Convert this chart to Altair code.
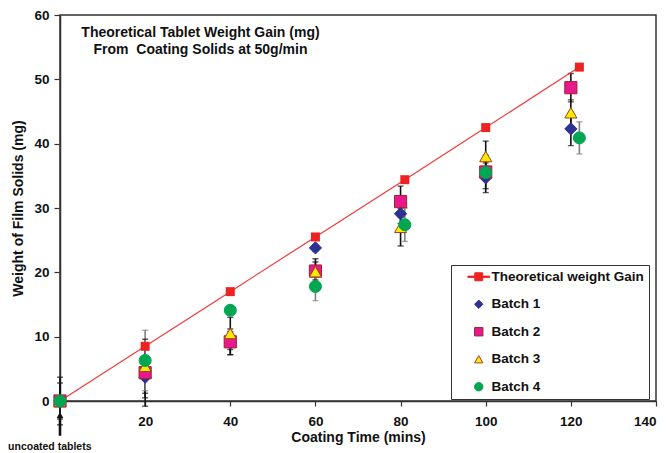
import altair as alt
import pandas as pd

# ---- data ----
series_names = ["Theoretical weight Gain", "Batch 1", "Batch 2", "Batch 3", "Batch 4"]

theory_time = [0, 20, 40, 60, 81, 100, 122]
theory_val = [0, 8.5, 17.0, 25.5, 34.4, 42.5, 51.9]

batch_time = [0, 20, 40, 60, 80, 100, 120]
batch4_time = [0, 20, 40, 60, 81, 100, 122]

batch1 = [0, 3.7, 9.0, 23.8, 29.1, 34.7, 42.3]
batch1_err = [3.7, 4.5, 1.8, 0.5, 1.5, 2.3, 2.6]
batch2 = [0, 4.4, 9.2, 20.2, 31.0, 35.6, 48.7]
batch2_err = [2.8, 3.9, 2.0, 1.4, 2.4, 2.6, 2.2]
batch3 = [0, 5.4, 10.5, 20.1, 27.0, 38.0, 44.8]
batch3_err = [0, 4.2, 2.5, 2.0, 2.9, 2.4, 2.0]
batch4 = [0, 6.3, 14.1, 17.8, 27.4, 35.5, 40.9]
batch4_err = [0, 4.7, 0.5, 2.2, 2.6, 1.0, 2.5]

x_ticks = [20, 40, 60, 80, 100, 120, 140]
y_ticks = [0, 10, 20, 30, 40, 50, 60]

title_lines = ["Theoretical Tablet Weight Gain (mg)", "From\u00a0\u00a0Coating Solids at 50g/min"]

# ---- tables ----
theory_df = pd.DataFrame({"t": theory_time, "v": theory_val})

rows = []
for name, ts, vs, es in [
    ("Batch 1", batch_time, batch1, batch1_err),
    ("Batch 2", batch_time, batch2, batch2_err),
    ("Batch 3", batch_time, batch3, batch3_err),
    ("Batch 4", batch4_time, batch4, batch4_err),
]:
    for t, v, e in zip(ts, vs, es):
        rows.append({"series": name, "kind": name, "t": t, "v": v, "lo": v - e, "hi": v + e})
batch_df = pd.DataFrame(rows)

FONT = "Liberation Sans"

x_scale = alt.Scale(domain=[0, 140], nice=False, zero=False)
y_scale = alt.Scale(domain=[0, 60], nice=False, zero=False)

x_axis = alt.Axis(
    values=x_ticks, title="Coating Time (mins)", grid=False,
    tickSize=5, labelPadding=8, titleBaseline="middle", titleY=36,
)
y_axis = alt.Axis(
    values=y_ticks, title="Weight of Film Solids (mg)", grid=False,
    tickSize=6, labelPadding=5, titleBaseline="middle", titleX=-42,
)

X = alt.X("t:Q", scale=x_scale, axis=x_axis)
Y = alt.Y("v:Q", scale=y_scale, axis=y_axis)

err_color = alt.condition("datum.series == 'Batch 4'", alt.value("#808080"), alt.value("#111111"))

err_rule = alt.Chart(batch_df).mark_rule(strokeWidth=1.6).encode(
    x=alt.X("t:Q", scale=x_scale), y=alt.Y("lo:Q", scale=y_scale), y2="hi:Q", color=err_color
)
err_cap_lo = alt.Chart(batch_df).mark_tick(orient="horizontal", size=6, thickness=1.4).encode(
    x=alt.X("t:Q", scale=x_scale), y=alt.Y("lo:Q", scale=y_scale), color=err_color
)
err_cap_hi = alt.Chart(batch_df).mark_tick(orient="horizontal", size=6, thickness=1.4).encode(
    x=alt.X("t:Q", scale=x_scale), y=alt.Y("hi:Q", scale=y_scale), color=err_color
)

theory_line = alt.Chart(theory_df).mark_line(color="#F03A3A", strokeWidth=1.2).encode(x=X, y=Y)
theory_pts = alt.Chart(theory_df).mark_square(color="#EE2222", size=81, opacity=1).encode(
    x=alt.X("t:Q", scale=x_scale), y=alt.Y("v:Q", scale=y_scale)
)

legend_line_symbol = "M-2.6,-0.15H2.6V0.15H-2.6Z M-0.95,-0.95H0.95V0.95H-0.95Z"

color_scale = alt.Scale(domain=series_names,
                        range=["#EE2222", "#2E3192", "#E8198B", "#FFEB00", "#00A651"])
stroke_scale = alt.Scale(domain=series_names,
                         range=["#EE2222", "#2E3192", "#9B2335", "#A0401E", "#00A651"])
shape_scale = alt.Scale(domain=series_names,
                        range=[legend_line_symbol, "diamond", "square", "triangle-up", "circle"])

the_legend = alt.Legend(
    title=None, orient="none", legendX=391, legendY=250,
    padding=5, symbolOffset=16, symbolSize=70, labelOffset=6,
    rowPadding=12.5, labelFont=FONT, labelFontSize=13.5, labelFontWeight="bold",
    labelColor="#111111", strokeColor="#333333", fillColor="white",
    symbolStrokeWidth=1, symbolOpacity=1,
)

# small copies underneath the visible points: these carry the legend
legend_pts = alt.Chart(batch_df).mark_point(filled=True, opacity=1, strokeWidth=1, size=70).encode(
    x=alt.X("t:Q", scale=x_scale),
    y=alt.Y("v:Q", scale=y_scale),
    color=alt.Color("series:N", scale=color_scale, legend=the_legend),
    stroke=alt.Stroke("series:N", scale=stroke_scale, legend=the_legend),
    shape=alt.Shape("series:N", scale=shape_scale, legend=the_legend),
)

batch_pts = alt.Chart(batch_df).mark_point(filled=True, opacity=1, strokeWidth=1).encode(
    x=alt.X("t:Q", scale=x_scale),
    y=alt.Y("v:Q", scale=y_scale),
    color=alt.Color("series:N", scale=color_scale, legend=None),
    stroke=alt.Stroke("series:N", scale=stroke_scale, legend=None),
    shape=alt.Shape("series:N", scale=shape_scale, legend=None),
    size=alt.Size("kind:N", scale=alt.Scale(domain=series_names[1:], range=[150, 144, 160, 196]),
                  legend=None),
)

title_text = alt.Chart(pd.DataFrame({"line": title_lines, "row": [0, 1]})).mark_text(
    font=FONT, fontSize=14, fontWeight="bold", color="#111111", align="center", baseline="middle"
).encode(
    x=alt.X("xx:Q", scale=x_scale),
    y=alt.Y("yy:Q", scale=y_scale),
    text="line:N",
).transform_calculate(xx="33", yy="57.2 - datum.row * 2.65")

arrow_shaft = alt.Chart(pd.DataFrame({"a": [0]})).mark_rule(color="#111111", strokeWidth=2.6).encode(
    x=alt.datum(0), y=alt.datum(-5.4), y2=alt.datum(-2.6)
)
arrow_head = alt.Chart(pd.DataFrame({"a": [0]})).mark_point(
    shape="triangle-up", filled=True, color="#111111", size=45, opacity=1
).encode(x=alt.datum(0), y=alt.datum(-2.2))
arrow_text = alt.Chart(pd.DataFrame({"a": [0]})).mark_text(
    text="uncoated tablets", font=FONT, fontSize=10.5, fontWeight="bold", color="#111111",
    align="center", baseline="middle"
).encode(x=alt.datum(-2.4), y=alt.datum(-7.15))

chart = alt.layer(
    err_rule, err_cap_lo, err_cap_hi, theory_line, theory_pts, legend_pts, batch_pts,
    title_text, arrow_shaft, arrow_head, arrow_text,
).properties(
    width=596, height=386,
    autosize=alt.AutoSizeParams(type="none"),
    padding={"left": 60, "top": 15, "right": 12, "bottom": 52},
).configure_view(
    stroke="#333333", strokeWidth=1.5
).configure_axis(
    labelFont=FONT, labelFontSize=13.5, labelFontWeight="bold", labelColor="#111111",
    titleFont=FONT, titleFontSize=14, titleFontWeight="bold", titleColor="#111111",
    domainColor="#333333", domainWidth=1.5, tickColor="#333333", tickWidth=1.2,
)

chart.save("out.html", embed_options={"renderer": "svg", "actions": False})
